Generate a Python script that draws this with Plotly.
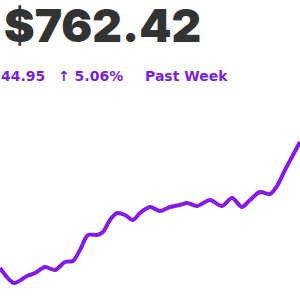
import plotly.graph_objects as go

# time positions (arbitrary units across the past week) and prices
t = [0, 14, 27, 35, 45, 55, 65, 73, 80, 88, 97, 103, 110, 117, 125, 133, 140,
     150, 160, 170, 180, 187, 197, 210, 222, 232, 242, 250, 260, 270, 277, 285, 293, 300]
price = [717.47, 712.12, 714.62, 715.69, 717.83, 716.76, 719.61, 719.97, 723.89,
         729.24, 729.24, 730.31, 734.59, 737.09, 736.38, 734.59, 737.09,
         739.23, 737.80, 739.23, 739.94, 740.66, 739.59, 741.73, 739.59, 742.44,
         739.23, 741.73, 744.58, 743.87, 746.72, 752.43, 757.78, 762.42]

current = "$762.42"
change = "44.95"
pct = "↑ 5.06%"
period = "Past Week"

purple = "#8519e6"
txt_purple = "#7a1fdc"

fig = go.Figure()
fig.add_trace(go.Scatter(x=t, y=price, mode="lines",
                         line=dict(color=purple, width=4, shape="spline", smoothing=0.8),
                         hoverinfo="skip"))

sub_font = dict(family="DejaVu Sans", size=14, color=txt_purple, weight=700)

fig.update_layout(
    width=300, height=300,
    margin=dict(l=0, r=0, t=0, b=0),
    paper_bgcolor="white", plot_bgcolor="white",
    showlegend=False,
    xaxis=dict(visible=False, range=[0, 300], fixedrange=True),
    yaxis=dict(visible=False, range=[706.06, 813.07], fixedrange=True),
    annotations=[
        dict(text=current, xref="paper", yref="paper", x=3/300, y=1-25/300,
             xanchor="left", yanchor="middle", showarrow=False, borderpad=0,
             font=dict(family="Inter", size=46, color="#333333", weight=900)),
        dict(text=change, xref="paper", yref="paper", x=0, y=1-76/300,
             xanchor="left", yanchor="middle", showarrow=False, borderpad=0,
             font=sub_font),
        dict(text=pct, xref="paper", yref="paper", x=56/300, y=1-76/300,
             xanchor="left", yanchor="middle", showarrow=False,
             font=sub_font),
        dict(text=period, xref="paper", yref="paper", x=143/300, y=1-76/300,
             xanchor="left", yanchor="middle", showarrow=False,
             font=sub_font),
    ],
)

fig.write_html("out.html", config={"displayModeBar": False})
